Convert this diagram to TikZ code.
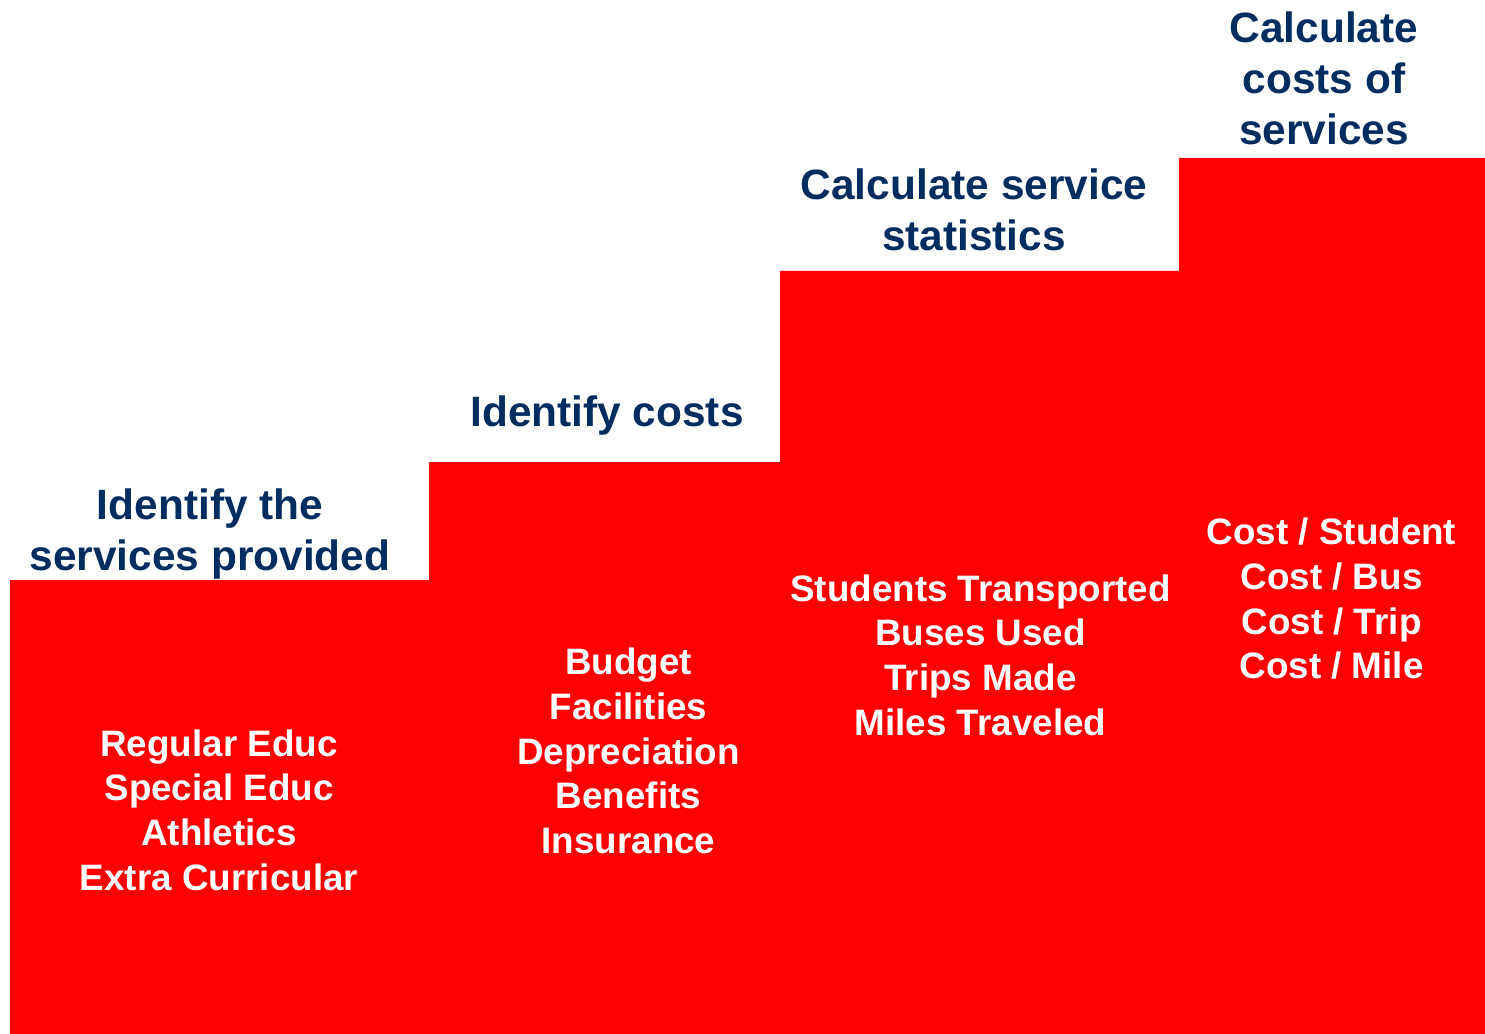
\documentclass[tikz,border=0pt]{standalone}
\usepackage{fontspec}
\setmainfont{Liberation Sans}
\definecolor{navy}{RGB}{0,45,95}
\definecolor{stepred}{RGB}{255,0,0}
\begin{document}
\begin{tikzpicture}[x=0.75pt,y=-0.75pt,
  title/.style={text=navy,font=\bfseries\fontsize{31.8}{38.3}\selectfont,align=center,inner sep=0pt},
  item/.style={text=white,font=\bfseries\fontsize{27.6}{33.5}\selectfont,align=center,inner sep=0pt}]
\useasboundingbox (0,0) rectangle (1485,1034);
\fill[stepred] (10,1034) -- (10,580) -- (429,580) -- (429,462) -- (780,462) -- (780,271)
  -- (1179,271) -- (1179,158) -- (1485,158) -- (1485,1034) -- cycle;
\node[title] (t1) at (210,534) {Identify the\\services provided};
\node[title] (t2) at (607,416) {Identify costs};
\node[title] (t3) at (974,210) {Calculate service\\statistics};
\node[title] (t4) at (1324,78) {Calculate\\costs of\\services};
\node[item] (l1) at (219,810) {Regular Educ\\Special Educ\\Athletics\\Extra Curricular};
\node[item] (l2) at (628.5,751) {Budget\\Facilities\\Depreciation\\Benefits\\Insurance};
\node[item] (l3) at (980.5,655) {Students Transported\\Buses Used\\Trips Made\\Miles Traveled};
\node[item] (l4) at (1331.5,599) {Cost / Student\\Cost / Bus\\Cost / Trip\\Cost / Mile};
\end{tikzpicture}
\end{document}
